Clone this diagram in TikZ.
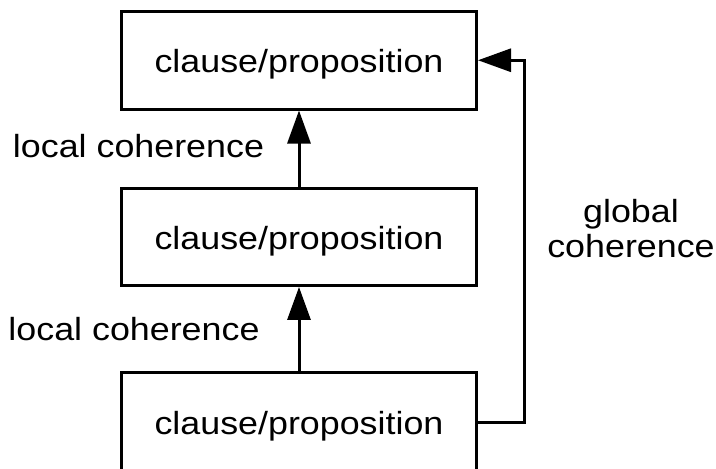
\documentclass[tikz,border=0pt]{standalone}
\usepackage{fontspec}
\setmainfont{Liberation Sans}[FakeStretch=1.12]
\usetikzlibrary{arrows.meta}
\begin{document}
\begin{tikzpicture}[x=1pt,y=-1pt,
  box/.style={draw, line width=3pt, minimum width=355pt, inner sep=0pt,
    text height=28pt, text depth=3pt, font=\fontsize{32}{38}\selectfont},
  lbl/.style={font=\fontsize{32}{35}\selectfont, inner sep=0pt},
  arr/.style={line width=3pt, -{Triangle[length=33pt,width=23pt]}}]
\begin{scope}
\clip (0,0) rectangle (716,469);
\node[box, minimum height=97.5pt] (top) at (299,60.25) {clause/proposition};
\node[box, minimum height=96.5pt] (mid) at (299,237.2) {clause/proposition};
\node[box, minimum height=100pt] (bot) at (299,422) {clause/proposition};
\node[lbl, anchor=base] (l1) at (138.5,157) {local coherence};
\node[lbl, anchor=base] (l2) at (134,340) {local coherence};
\node[lbl, align=center] (g) at (631,229) {global\\coherence};
\draw[arr] (mid) -- (top);
\draw[arr] (bot) -- (mid);
\coordinate (gx) at (524,0);
\draw[arr] (bot.east) -- (bot.east -| gx) |- (top.east);
\end{scope}
\pgfresetboundingbox
\useasboundingbox (0,0) rectangle (716,469);
\end{tikzpicture}
\end{document}
